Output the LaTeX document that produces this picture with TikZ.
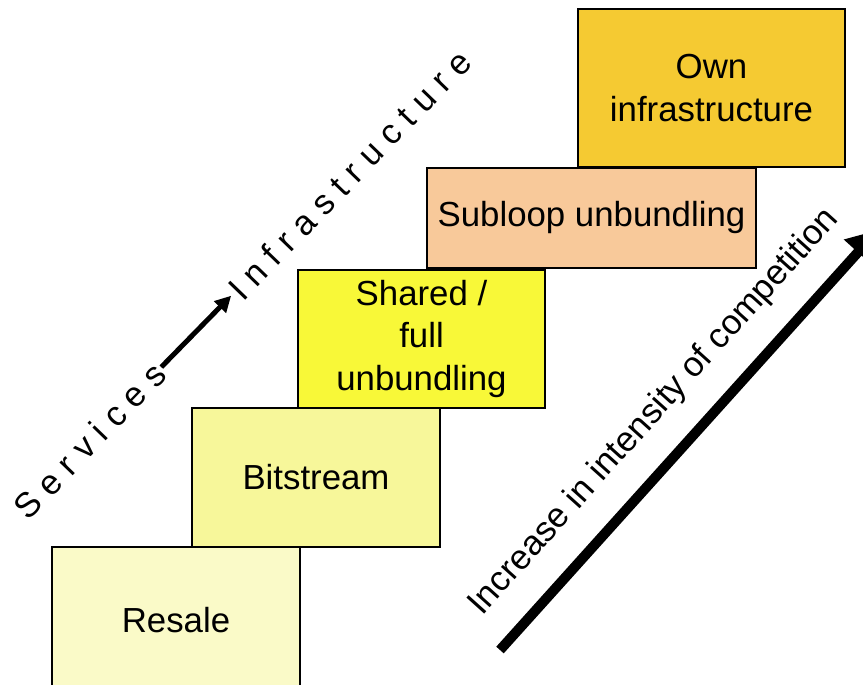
\documentclass[tikz,border=0pt]{standalone}
\usepackage{fontspec}
\setmainfont{Liberation Sans}
\usetikzlibrary{arrows.meta}
\definecolor{resalefill}{RGB}{250,250,200}
\definecolor{bitfill}{RGB}{247,247,154}
\definecolor{sharedfill}{RGB}{248,248,56}
\definecolor{subloopfill}{RGB}{248,201,154}
\definecolor{ownfill}{RGB}{245,202,50}
\tikzset{
  % For the steps of the ladder.
  rung/.style={
    draw,
    line width=1.8pt,
    inner sep=0pt,
    outer sep=0pt,
    align=center,
    font=\fontsize{34.8}{42.5}\selectfont},
%
  % For the letter-spaced words on the left.
  spaced/.style={
    inner sep=0pt,
    font=\fontsize{34.8}{42.5}\selectfont\addfontfeature{LetterSpace=28}},
%
  % For the short arrow between the words.
  small arrow/.style={
    line width=5pt,
    -{Triangle[length=16pt,width=16pt]}},
%
  % For the long arrow.
  big arrow/.style={
    line width=10pt,
    -{Triangle[length=30pt,width=36pt]}},
%
  % For the explanation along the long arrow.
  description/.style={
    inner sep=0pt,
    font=\fontsize{34.8}{42.5}\selectfont},
}

\begin{document}
\begin{tikzpicture}[x=1pt,y=-1pt]
  \useasboundingbox (0,0) rectangle (863,685);
  \fill[white] (0,0) rectangle (863,685);
  \clip (0,0) rectangle (863,685);

  \node[rung, fill=ownfill, minimum width=267pt, minimum height=158pt]
    (own) at (711.5,88) {Own\\infrastructure};
  \node[rung, fill=subloopfill, minimum width=329pt, minimum height=100pt]
    (subloop) at (591.5,218) {Subloop unbundling};
  \node[rung, fill=sharedfill, minimum width=247pt, minimum height=138pt]
    (shared) at (421.5,339) {Shared /\\full\\unbundling};
  \node[rung, fill=bitfill, minimum width=248pt, minimum height=139pt]
    (bitstream) at (316,477.5) {Bitstream};
  \node[rung, fill=resalefill, minimum width=248pt, minimum height=146pt]
    (resale) at (176,620) {Resale};

  \node[spaced, rotate=46, anchor=base west] (svc) at (28,522) {Services};
  \node[spaced, rotate=46, anchor=base west] (infra) at (243,303) {Infrastructure};
  \draw[small arrow, shorten <=2pt, shorten >=3pt] (svc) -- (infra);

  \coordinate (low) at (500,650);
  \coordinate (high) at (878,230);
  \draw[big arrow] (low) -- (high);
  \node[description, rotate=48, anchor=base] (comp) at (661,418)
    {Increase in intensity of competition};
\end{tikzpicture}
\end{document}
